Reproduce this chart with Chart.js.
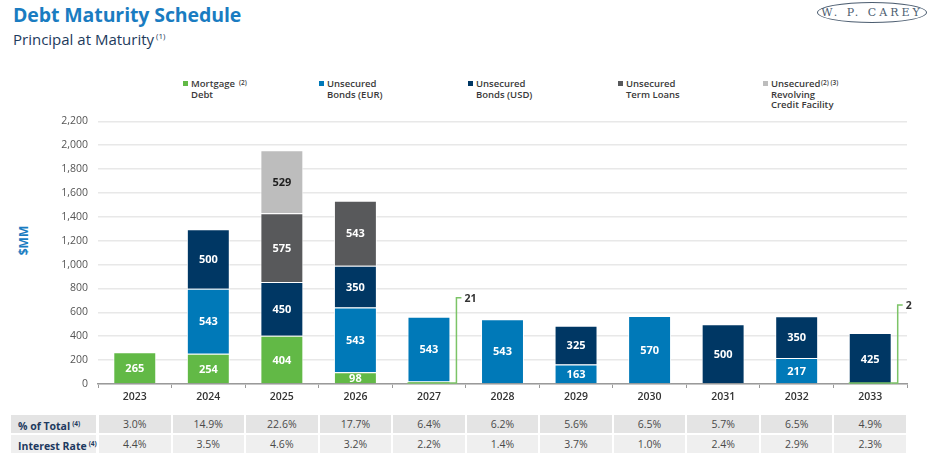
<!DOCTYPE html>
<html>
<head>
<meta charset="utf-8">
<script src="https://cdn.jsdelivr.net/npm/chart.js@4.4.1/dist/chart.umd.min.js"></script>
<style>
  body { margin: 0; background: #fff; font-family: "Open Sans", sans-serif; }
  #wrap { position: relative; width: 935px; height: 458px; overflow: hidden; }
  .abs { position: absolute; white-space: nowrap; }
  #title { left: 13px; top: 1px; font-size: 19.5px; font-weight: 700; color: #1a7cc1; letter-spacing: -0.1px; }
  #subtitle { left: 13px; top: 29px; font-size: 15px; color: #1d3a5c; }
  sup { font-size: 8px; vertical-align: 6px; margin-left: 2px; }
  #logo { left: 817px; top: 2px; width: 108px; height: 19px; border: 1px solid #4c5d70; border-radius: 50%;
          font-family: "DejaVu Serif", serif; font-size: 11px; color: #4c5d70; text-align: center; line-height: 19px; letter-spacing: 3px; }
  #ytitle { left: 8px; top: 232px; width: 30px; text-align: center; transform: rotate(-90deg); font-size: 12px; font-weight: 700; color: #1a7cc1; }
  .leg { font-size: 9.5px; font-weight: 600; color: #3a3a3a; line-height: 10.7px; }
  .leg i { position: absolute; left: -8px; top: 2px; width: 5px; height: 5px; }
  .leg b { position: absolute; top: -1px; font-size: 6.5px; font-weight: 600; }
  .cell { position: absolute; height: 18px; line-height: 18px; text-align: center; font-size: 10.5px; color: #4a4a4a; white-space: nowrap; }
  .hdr { text-align: left; padding-left: 7px; box-sizing: border-box; font-weight: 700; color: #1e3a5f; }
  .hdr sup { font-size: 6.5px; vertical-align: 4px; }
</style>
</head>
<body>
<div id="wrap">
  <div id="title" class="abs">Debt Maturity Schedule</div>
  <div id="subtitle" class="abs">Principal at Maturity<sup>(1)</sup></div>
  <div id="logo" class="abs">W. P. CAREY</div>
  <div id="ytitle" class="abs">$MM</div>
  <div id="legend"></div>
  <canvas id="chart" width="935" height="300" style="position:absolute;left:0;top:105px;"></canvas>
  <div id="table"></div>
</div>
<script>
const years = ["2023", "2024", "2025", "2026", "2027", "2028", "2029", "2030", "2031", "2032", "2033"];
const mortgageDebt = [265, 254, 404, 98, 21, null, null, null, null, null, 2];
const bondsEur = [null, 543, null, 543, 543, 543, 163, 570, null, 217, null];
const bondsUsd = [null, 500, 450, 350, null, null, 325, null, 500, 350, 425];
const termLoans = [null, null, 575, 543, null, null, null, null, null, null, null];
const revolver = [null, null, 529, null, null, null, null, null, null, null, null];
const pctOfTotal = ["3.0%", "14.9%", "22.6%", "17.7%", "6.4%", "6.2%", "5.6%", "6.5%", "5.7%", "6.5%", "4.9%"];
const interestRate = ["4.4%", "3.5%", "4.6%", "3.2%", "2.2%", "1.4%", "3.7%", "1.0%", "2.4%", "2.9%", "2.3%"];

const GREEN = "#62b946";
const EUR = "#0079b8";
const USD = "#003764";
const TERM = "#58595b";
const REV = "#bdbdbd";

// legend as html, positions by eye
const legendItems = [
  { x: 191, color: GREEN, lines: ["Mortgage", "Debt"], note: "(2)", noteX: 48 },
  { x: 327, color: EUR, lines: ["Unsecured", "Bonds (EUR)"] },
  { x: 476, color: USD, lines: ["Unsecured", "Bonds (USD)"] },
  { x: 626, color: TERM, lines: ["Unsecured", "Term Loans"] },
  { x: 771, color: REV, lines: ["Unsecured", "Revolving", "Credit Facility"], note: "(2) (3)", noteX: 50 },
];
const legendEl = document.getElementById("legend");
legendItems.forEach((it) => {
  const d = document.createElement("div");
  d.className = "abs leg";
  d.style.left = it.x + "px";
  d.style.top = "79px";
  d.innerHTML = '<i style="background:' + it.color + '"></i>' + it.lines.join("<br>") +
    (it.note ? '<b style="left:' + it.noteX + 'px">' + it.note + "</b>" : "");
  legendEl.appendChild(d);
});

const segmentLabels = {
  id: "segmentLabels",
  afterDatasetsDraw(chart) {
    const ctx = chart.ctx;
    ctx.save();
    ctx.font = "700 11px 'Open Sans'";
    ctx.textAlign = "center";
    ctx.textBaseline = "middle";
    chart.data.datasets.forEach((ds, di) => {
      const meta = chart.getDatasetMeta(di);
      meta.data.forEach((bar, i) => {
        const v = ds.data[i];
        if (v == null || v < 50) return;
        ctx.fillStyle = ds.labelColor || "#fff";
        ctx.fillText(String(v), bar.x, (bar.y + bar.base) / 2 + 1);
      });
    });
    ctx.restore();
  },
};

// leader lines for the tiny mortgage amounts
const callouts = {
  id: "callouts",
  afterDatasetsDraw(chart, args, opts) {
    const ctx = chart.ctx;
    const meta = chart.getDatasetMeta(0);
    const yScale = chart.scales.y;
    ctx.save();
    ctx.strokeStyle = "#7cc467";
    ctx.lineWidth = 1.5;
    ctx.font = "700 10.5px 'Open Sans'";
    ctx.fillStyle = "#333";
    ctx.textBaseline = "middle";
    mortgageDebt.forEach((v, i) => {
      if (v == null || v >= 50) return;
      const bar = meta.data[i];
      const total = [mortgageDebt, bondsEur, bondsUsd, termLoans, revolver]
        .reduce((s, arr) => s + (arr[i] || 0), 0);
      const left = bar.x - bar.width / 2;
      const lx = bar.x + bar.width / 2 + 6;
      const base = yScale.getPixelForValue(0) - 1;
      const top = yScale.getPixelForValue(total) - (opts.rise[i] || 20);
      ctx.beginPath();
      ctx.moveTo(left, base);
      ctx.lineTo(lx, base);
      ctx.lineTo(lx, top);
      ctx.lineTo(lx + 5, top);
      ctx.stroke();
      ctx.fillText(String(v), lx + 8, top + 1);
    });
    ctx.restore();
  },
};

const makeSet = (label, data, color, extra) =>
  Object.assign({
    label, data, backgroundColor: color,
    borderColor: "rgba(255,255,255,0.85)", borderWidth: 1,
    categoryPercentage: 0.8, barPercentage: 0.73,
  }, extra || {});

const chart = new Chart(document.getElementById("chart"), {
  type: "bar",
  data: {
    labels: years,
    datasets: [
      makeSet("Mortgage Debt", mortgageDebt, GREEN),
      makeSet("Unsecured Bonds (EUR)", bondsEur, EUR),
      makeSet("Unsecured Bonds (USD)", bondsUsd, USD),
      makeSet("Unsecured Term Loans", termLoans, TERM),
      makeSet("Unsecured Revolving Credit Facility", revolver, REV, { labelColor: "#1e1e1e" }),
    ],
  },
  options: {
    responsive: false,
    animation: false,
    layout: { padding: { left: 0, right: 28, top: 9, bottom: 0 } },
    plugins: {
      legend: { display: false },
      tooltip: { enabled: false },
      callouts: { rise: { 4: 19, 10: 28 } },
    },
    scales: {
      x: {
        stacked: true,
        afterFit(scale) { scale.height = 21; },
        grid: { drawOnChartArea: false, drawTicks: true, tickLength: 4, color: "#9a9a9a" },
        border: { color: "#9a9a9a", width: 1.5 },
        ticks: { color: "#333", padding: 3, font: { family: "Open Sans", size: 10.5, weight: 600 } },
      },
      y: {
        stacked: true,
        min: 0,
        max: 2200,
        afterFit(scale) { scale.width = 98; },
        grid: { color: "#e8e8e8", lineWidth: 1.5, drawTicks: false },
        border: { display: false },
        ticks: {
          stepSize: 200, padding: 10, color: "#555",
          font: { family: "Open Sans", size: 10.5 },
          callback: (v) => v.toLocaleString("en-US"),
        },
      },
    },
  },
  plugins: [segmentLabels, callouts],
});

// table under the chart, aligned to the category slots
const xs = chart.scales.x;
const slot = xs.width / years.length;
const tableEl = document.getElementById("table");
const rows = [
  { name: "% of Total", vals: pctOfTotal, top: 415, bg: "#e4e4e4" },
  { name: "Interest Rate", vals: interestRate, top: 435, bg: "#efefef" },
];
rows.forEach((r) => {
  const h = document.createElement("div");
  h.className = "cell hdr";
  h.style.cssText += "left:11px;width:" + (xs.left - 13) + "px;top:" + r.top + "px;background:" + r.bg;
  h.innerHTML = r.name + "<sup>(4)</sup>";
  tableEl.appendChild(h);
  r.vals.forEach((v, i) => {
    const c = document.createElement("div");
    c.className = "cell";
    const cx = xs.getPixelForValue(i);
    c.style.cssText += "left:" + (cx - slot / 2 + 1) + "px;width:" + (slot - 2) + "px;top:" + r.top + "px;background:" + r.bg;
    c.textContent = v;
    tableEl.appendChild(c);
  });
});
</script>
</body>
</html>
